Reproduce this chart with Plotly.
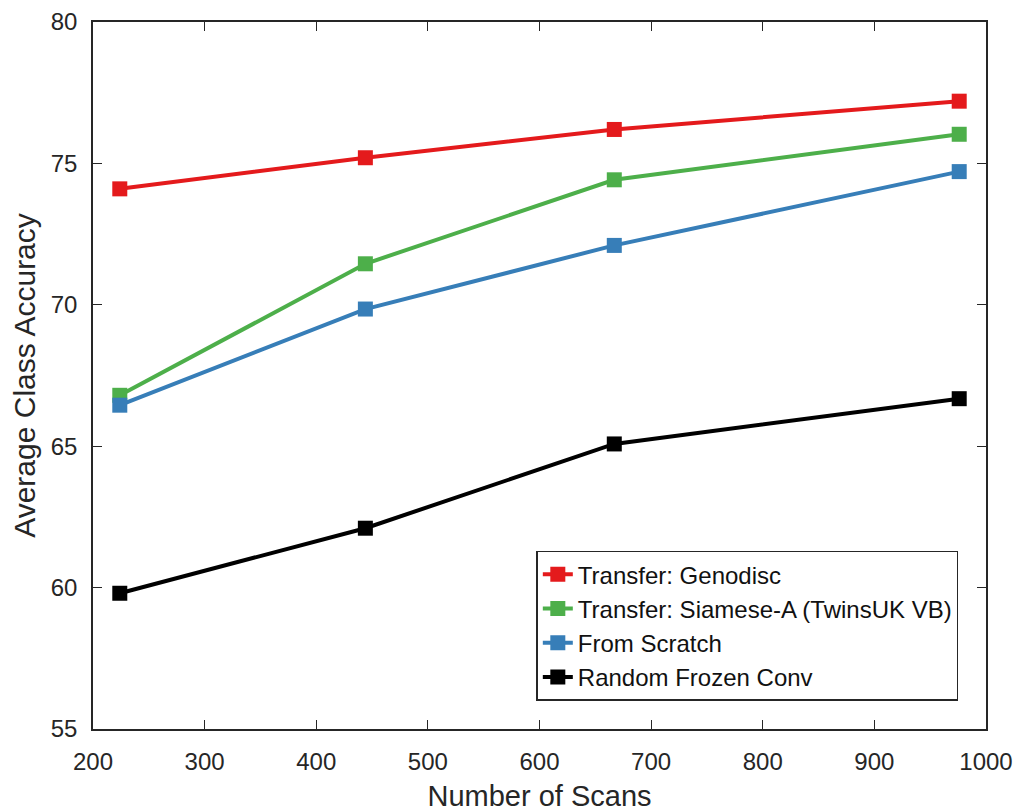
import plotly.graph_objects as go

# Training-set sizes (number of scans)
num_scans = [224, 444, 667, 976]

# Average class accuracy (%) per training strategy
genodisc = [74.1, 75.2, 76.2, 77.2]
siamese_a = [66.8, 71.45, 74.42, 76.03]
from_scratch = [66.45, 69.85, 72.1, 74.71]
random_frozen = [59.8, 62.1, 65.08, 66.68]

series_names = [
    "Transfer: Genodisc",
    "Transfer: Siamese-A (TwinsUK VB)",
    "From Scratch",
    "Random Frozen Conv",
]
series_values = [genodisc, siamese_a, from_scratch, random_frozen]
series_colors = ["#e41a1c", "#4daf4a", "#377eb8", "#000000"]

x_ticks = [200, 300, 400, 500, 600, 700, 800, 900, 1000]
y_ticks = [55, 60, 65, 70, 75, 80]

FONT = "Liberation Sans, Arial, Helvetica, sans-serif"
TEXT = "#262626"

fig = go.Figure()
for name, vals, col in zip(series_names, series_values, series_colors):
    fig.add_trace(go.Scatter(
        x=num_scans, y=vals, name=name, mode="lines+markers",
        line=dict(color=col, width=4),
        marker=dict(symbol="square", size=15, color=col),
    ))

axis_common = dict(
    showline=True, linecolor=TEXT, linewidth=1.5, mirror="ticks",
    ticks="inside", ticklen=9, tickwidth=1.2, tickcolor=TEXT,
    showgrid=False, zeroline=False, automargin=False,
    tickfont=dict(family=FONT, size=24, color=TEXT),
)

fig.update_xaxes(
    range=[200, 1000], tickvals=x_ticks, ticktext=[str(v) for v in x_ticks],
    title=dict(text="Number of Scans", font=dict(family=FONT, size=29, color=TEXT), standoff=14),
    ticklabelstandoff=10,
    **axis_common,
)
fig.update_yaxes(
    range=[55, 80], tickvals=y_ticks, ticktext=[str(v) for v in y_ticks],
    title=dict(text="Average Class Accuracy", font=dict(family=FONT, size=30, color=TEXT), standoff=6),
    ticklabelstandoff=9,
    **axis_common,
)

fig.update_layout(
    width=1018, height=812,
    margin=dict(l=93, r=32, t=22, b=83),
    paper_bgcolor="white", plot_bgcolor="white",
    font=dict(family=FONT, color=TEXT),
    legend=dict(
        x=0.969, y=0.04, xanchor="right", yanchor="bottom",
        bgcolor="white", bordercolor=TEXT, borderwidth=1.5,
        font=dict(family=FONT, size=24, color="#111111"),
    ),
    showlegend=True,
)

fig.write_html("out.html")
